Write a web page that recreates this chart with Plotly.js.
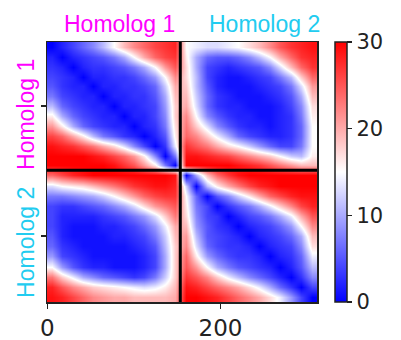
<!DOCTYPE html>
<html>
<head>
<meta charset="utf-8">
<script src="https://cdn.plot.ly/plotly-3.0.1.min.js"></script>
<style>html,body{margin:0;padding:0;background:#fff;}#chart{width:401px;height:340px;}</style>
</head>
<body>
<div id="chart"></div>
<script>
// Block lengths (beads) of the two homologs
const homologLengths = [154, 158];
const homologNames = ["Homolog 1", "Homolog 2"];
const homologColors = ["#ff00ff", "#22ccf0"];
const xTickVals = [0, 200];
const cbTickVals = [0, 10, 20, 30];

// Distance values, 13x13 samples per block (rows top->bottom)
const blockA = [ // rows Homolog 1, cols Homolog 1
[0,2,4,6,8,11,15,19,22,24,26,27,28],
[2,0,2,3,4,5,7,10,15,20,24,26,27],
[3,2,0,2,3,3,4,5,7,10,15,21,25],
[4,3,2,0,2,2,3,3,4,6,9,15,22],
[5,3,2,2,0,2,2,3,3,4,6,12,20],
[7,4,3,2,2,0,2,2,3,3,5,10,19],
[11,6,4,3,2,2,0,2,2,3,4,9,18],
[16,10,6,4,3,2,2,0,2,2,4,8,18],
[21,16,10,6,4,3,2,2,0,2,3,7,17],
[26,24,20,16,11,7,5,3,2,0,2,5,16],
[29,28,27,25,23,20,17,13,8,4,0,3,14],
[30,30,30,30,29,28,26,24,21,16,8,0,7],
[30,30,30,30,30,30,29,27,25,21,16,7,0]
];
const blockB = [ // rows Homolog 1, cols Homolog 2
[15,14,13,13,14,15,17,19,22,25,27,28,29],
[16,10,6,5,5,6,8,11,15,20,24,27,28],
[17,10,4,3,2,3,4,5,8,13,19,24,27],
[17,11,4,2,1,1,2,3,4,7,11,18,24],
[18,11,5,2,1,1,1,2,3,4,7,13,21],
[19,12,6,3,2,1,1,1,2,3,5,10,19],
[20,13,6,3,2,2,1,1,1,2,4,8,17],
[22,15,8,5,3,2,2,1,1,2,3,7,16],
[23,18,13,8,5,3,2,2,1,2,3,6,15],
[24,22,18,14,10,6,4,3,2,2,3,6,15],
[27,25,23,20,17,15,12,9,6,4,4,7,15],
[29,29,28,27,26,24,22,20,18,15,12,11,16],
[30,30,30,30,30,29,28,27,25,23,21,19,19]
];
const blockC = [ // rows Homolog 2, cols Homolog 1
[24,26,28,29,30,30,30,30,30,30,30,30,29],
[13,15,16,17,19,21,23,25,27,28,29,29,28],
[7,7,8,9,10,12,15,18,21,24,26,27,27],
[4,3,3,4,5,6,8,10,13,17,21,23,25],
[4,2,2,2,2,3,4,5,7,9,13,18,23],
[4,2,1,1,1,2,2,3,4,6,9,14,20],
[5,2,1,1,1,1,2,2,3,4,7,12,19],
[6,3,2,1,1,1,1,1,2,3,5,11,18],
[9,4,3,2,1,1,1,1,1,2,4,10,18],
[15,9,5,3,2,2,1,1,1,2,4,10,18],
[23,18,14,10,8,6,5,4,3,4,7,12,18],
[28,25,22,20,18,17,16,15,14,13,14,16,19],
[29,28,26,24,22,21,20,20,19,19,19,19,20]
];
const blockD = [ // rows Homolog 2, cols Homolog 2
[0,10,19,24,27,29,30,30,30,30,30,30,30],
[12,0,11,16,20,23,26,28,29,30,30,30,30],
[15,6,0,5,8,12,16,20,24,26,28,29,29],
[16,7,4,0,3,5,7,10,14,18,22,26,28],
[17,8,4,3,0,2,4,5,7,10,14,20,25],
[19,9,5,3,2,0,2,3,4,6,9,15,22],
[21,11,5,4,3,2,0,2,3,4,6,10,19],
[22,13,6,4,3,3,2,0,2,3,4,8,17],
[24,16,9,6,4,3,3,2,0,2,3,6,14],
[25,21,15,10,7,5,4,3,2,0,2,5,11],
[27,25,22,18,14,11,8,6,4,2,0,3,8],
[29,28,26,24,22,20,17,14,10,6,3,0,4],
[30,30,29,28,26,24,22,20,17,14,9,4,0]
];

// assemble the full matrix
const blocks = [[blockA, blockB], [blockC, blockD]];
const nS = blockA.length;
const total = homologLengths[0] + homologLengths[1];
function centers() {
  const out = [];
  let off = -0.5;
  homologLengths.forEach(L => {
    for (let k = 0; k < nS; k++) out.push(off + (k + 0.5) * L / nS);
    off += L;
  });
  return out;
}
const coords = centers();
const z = [];
for (let bi = 0; bi < 2; bi++) {
  for (let r = 0; r < nS; r++) {
    z.push(blocks[bi][0][r].concat(blocks[bi][1][r]));
  }
}
const split = homologLengths[0] - 0.5;
const lo = -0.5, hi = total - 0.5;

const trace = {
  type: 'heatmap', x: coords, y: coords, z: z, zsmooth: 'best',
  zmin: 0, zmax: 30,
  colorscale: [[0, 'rgb(0,0,255)'], [0.5, 'rgb(255,255,255)'], [1, 'rgb(255,0,0)']],
  colorbar: {
    x: 1.067, xanchor: 'left', xpad: 0, ypad: 0, thickness: 12,
    len: 1, y: 0.5, yanchor: 'middle',
    outlinecolor: '#222', outlinewidth: 1.5,
    tickvals: cbTickVals, ticks: 'outside', ticklen: 5, tickwidth: 1.5, tickcolor: '#222',
    tickfont: {family: 'DejaVu Sans', size: 21, color: '#222'}
  }
};

const tickFont = {family: 'DejaVu Sans', size: 23, color: '#222'};
const labelFont = (c) => ({family: 'Liberation Sans', size: 23, color: c});
const layout = {
  width: 401, height: 340,
  margin: {l: 47, r: 84, t: 42, b: 38},
  paper_bgcolor: '#fff', plot_bgcolor: '#fff',
  xaxis: {range: [lo, hi], tickvals: xTickVals, ticks: 'outside', ticklen: 5, tickwidth: 1.5,
          tickcolor: '#222', showline: true, mirror: true, linecolor: '#222', linewidth: 1.5,
          showgrid: false, zeroline: false, tickfont: tickFont},
  yaxis: {range: [hi, lo], tickvals: [(lo + split) / 2, (split + hi) / 2], ticktext: ['', ''],
          ticks: 'outside', ticklen: 5, tickwidth: 1.5, tickcolor: '#222',
          showline: true, mirror: true, linecolor: '#222', linewidth: 1.5,
          showgrid: false, zeroline: false},
  shapes: [
    {type: 'line', xref: 'x', yref: 'y', x0: split, x1: split, y0: lo, y1: hi, line: {color: '#000', width: 3}},
    {type: 'line', xref: 'x', yref: 'y', x0: lo, x1: hi, y0: split, y1: split, line: {color: '#000', width: 3}}
  ],
  annotations: [
    {text: homologNames[0], xref: 'paper', yref: 'paper', x: 0.267, y: 1.069, showarrow: false,
     font: labelFont(homologColors[0]), xanchor: 'center', yanchor: 'middle'},
    {text: homologNames[1], xref: 'paper', yref: 'paper', x: 0.807, y: 1.069, showarrow: false,
     font: labelFont(homologColors[1]), xanchor: 'center', yanchor: 'middle'},
    {text: homologNames[0], xref: 'paper', yref: 'paper', x: -0.078, y: 0.723, showarrow: false, textangle: -90,
     font: labelFont(homologColors[0]), xanchor: 'center', yanchor: 'middle'},
    {text: homologNames[1], xref: 'paper', yref: 'paper', x: -0.078, y: 0.231, showarrow: false, textangle: -90,
     font: labelFont(homologColors[1]), xanchor: 'center', yanchor: 'middle'}
  ]
};

Plotly.newPlot('chart', [trace], layout, {displayModeBar: false, staticPlot: true});
</script>
</body>
</html>
